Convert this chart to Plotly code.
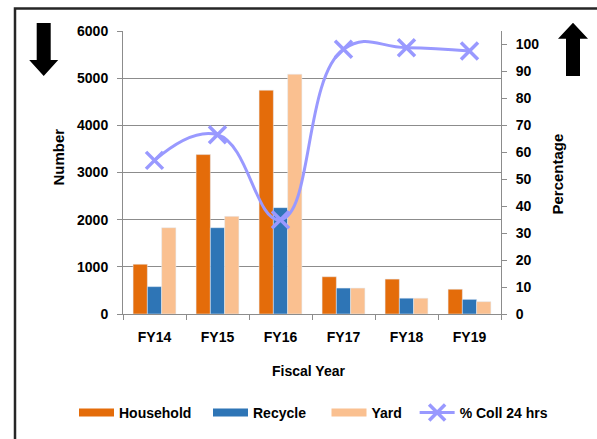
import plotly.graph_objects as go

# ---- data ----
years = ["FY14", "FY15", "FY16", "FY17", "FY18", "FY19"]
household = [1055, 3380, 4745, 790, 740, 525]
recycle = [580, 1830, 2255, 550, 335, 310]
yard = [1830, 2070, 5085, 550, 335, 262]
pct_coll_24h = [57, 66.5, 35, 98.2, 98.8, 97.6]

# ---- styling ----
C_HOUSE = "#E46C0A"
C_RECYC = "#2E75B6"
C_YARD = "#FAC090"
C_LINE = "#9999FF"
GRID = "#8C8C8C"
FONT = "Liberation Sans"
NBSP = "\u00a0"

W, H = 597, 439
L, R, T, B = 123, 96, 31, 125
PW, PH = W - L - R, H - T - B


def px(x):
    return (x - L) / PW


def py(y):
    return (H - B - y) / PH


fig = go.Figure()

for name, vals, col in [("Household", household, C_HOUSE),
                        ("Recycle", recycle, C_RECYC),
                        ("Yard", yard, C_YARD)]:
    fig.add_trace(go.Bar(x=years, y=vals, name=name, marker_color=col,
                         showlegend=False))

# legend swatches drawn as wide bands; trailing spaces widen the entry gaps
for name, col, pad in [("Household", C_HOUSE, 3), ("Recycle", C_RECYC, 4),
                       ("Yard", C_YARD, 2)]:
    fig.add_trace(go.Scatter(x=[None], y=[None], mode="lines", name=name + NBSP * pad,
                             line=dict(color=col, width=8), showlegend=True))

fig.add_trace(go.Scatter(
    x=years, y=pct_coll_24h, yaxis="y2", name="% Coll 24 hrs",
    mode="lines+markers",
    line=dict(color=C_LINE, width=3, shape="spline", smoothing=1.3),
    marker=dict(symbol="x-thin", size=17, color=C_LINE,
                line=dict(color=C_LINE, width=3.5)),
))

tickfont = dict(family=FONT, size=14, color="#000000", weight="bold")


def arrow(cx, top, bottom, head_len, shaft_half, head_half, up):
    if up:
        tip, base, end = top, top + head_len, bottom
    else:
        tip, base, end = bottom, bottom - head_len, top
    pts = [(cx - shaft_half, end), (cx + shaft_half, end), (cx + shaft_half, base),
           (cx + head_half, base), (cx, tip), (cx - head_half, base),
           (cx - shaft_half, base)]
    path = "M " + " L ".join(f"{px(x):.5f},{py(y):.5f}" for x, y in pts) + " Z"
    return dict(type="path", xref="paper", yref="paper", path=path,
                fillcolor="#000000", line=dict(width=0))


shapes = [
    # outer frame
    dict(type="rect", xref="paper", yref="paper",
         x0=px(15), x1=px(620), y0=py(8.5), y1=py(460),
         line=dict(color="#262626", width=2.5), fillcolor="rgba(0,0,0,0)"),
    arrow(43.7, 23, 76, 16, 7, 14.5, up=False),
    arrow(573, 22.7, 76, 16, 7, 15, up=True),
]

annotations = [
    dict(text="Number", x=px(47), y=py(157), xref="paper", yref="paper",
         textangle=-90, showarrow=False, font=dict(family=FONT, size=15, weight="bold", color="#000")),
    dict(text="Percentage", x=px(567), y=py(174), xref="paper", yref="paper",
         textangle=-90, showarrow=False, font=dict(family=FONT, size=15, weight="bold", color="#000")),
    dict(text="Fiscal Year", x=px(308), y=py(381), xref="paper", yref="paper",
         showarrow=False, font=dict(family=FONT, size=14, weight="bold", color="#000")),
]

fig.update_layout(
    width=W, height=H,
    margin=dict(l=L, r=R, t=T, b=B, autoexpand=False),
    paper_bgcolor="white", plot_bgcolor="white",
    barmode="group", bargap=0.32, bargroupgap=0,
    font=dict(family=FONT, color="#000"),
    xaxis=dict(type="category", range=[-0.5, 5.5], tickson="boundaries",
               ticks="outside", ticklen=5, tickcolor=GRID, showline=True,
               linecolor=GRID, linewidth=1, showgrid=False, tickfont=tickfont,
               ticklabelstandoff=10, fixedrange=True),
    yaxis=dict(range=[0, 6000], dtick=1000, ticks="outside", ticklen=5,
               tickcolor=GRID, showline=True, linecolor=GRID, linewidth=1,
               showgrid=True, gridcolor=GRID, gridwidth=1, tickfont=tickfont,
               ticklabelstandoff=6, zeroline=False),
    yaxis2=dict(range=[0, 105], tickvals=list(range(0, 101, 10)),
                overlaying="y", side="right", ticks="outside", ticklen=5,
                tickcolor=GRID, showline=True, linecolor=GRID, linewidth=1,
                showgrid=False, tickfont=tickfont, ticklabelstandoff=6,
                zeroline=False),
    legend=dict(orientation="h", x=px(74), xanchor="left",
                y=py(413), yanchor="middle",
                font=dict(family=FONT, size=14, weight="bold", color="#000"),
                itemwidth=35, bgcolor="rgba(0,0,0,0)", tracegroupgap=0),
    shapes=shapes, annotations=annotations,
)

fig.write_html("out.html")
